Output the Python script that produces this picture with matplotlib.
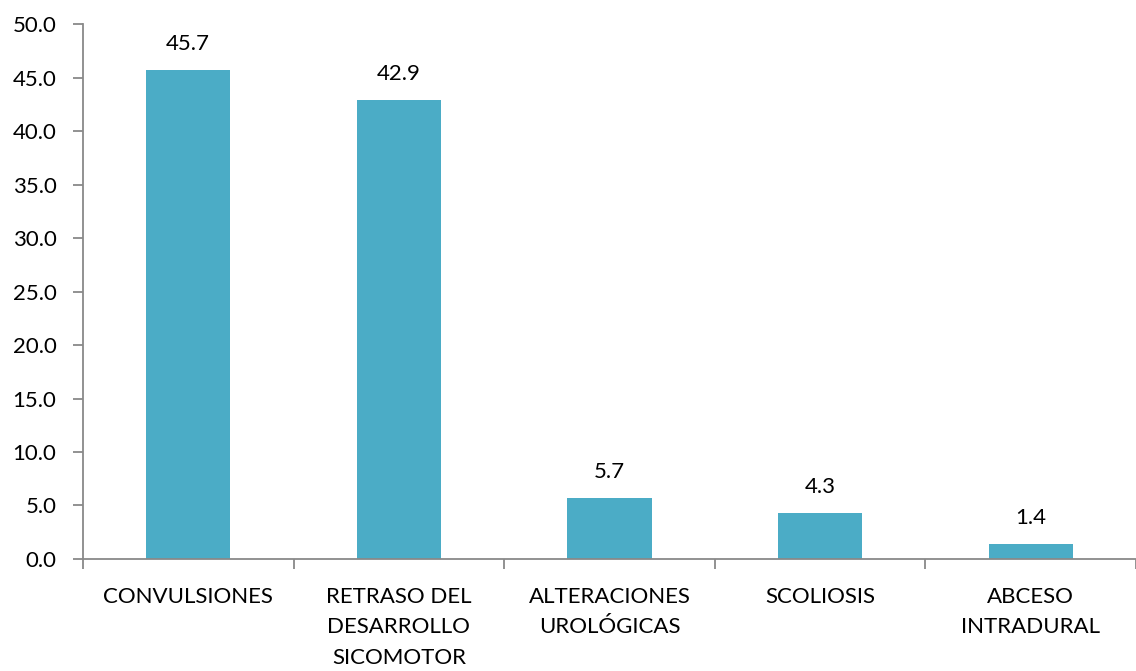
import matplotlib
matplotlib.use("Agg")
import matplotlib.pyplot as plt
import numpy as np

categorias = ["CONVULSIONES", "RETRASO DEL\nDESARROLLO\nSICOMOTOR", "ALTERACIONES\nUROLÓGICAS",
              "SCOLIOSIS", "ABCESO\nINTRADURAL"]
valores = [45.7, 42.9, 5.7, 4.3, 1.4]
yticks = [0, 5, 10, 15, 20, 25, 30, 35, 40, 45, 50]

plt.rcParams['font.family'] = ['Lato', 'DejaVu Sans']

fig = plt.figure(figsize=(11.36, 6.71), dpi=100)
ax = fig.add_axes([0.073, 0.167, 0.927, 0.797])

x = np.arange(len(categorias)) + 0.5
barras = ax.bar(x, valores, width=0.4, color="#4BACC6")

# etiquetas de valor encima de cada barra
for xi, v in zip(x, valores):
    ax.text(xi, v + 1.5, "{:.1f}".format(v), ha="center", va="bottom", fontsize=16)

ax.set_xlim(0, len(categorias))
ax.set_ylim(0, 50)
ax.set_yticks(yticks)
ax.set_yticklabels(["{:.1f}".format(t) for t in yticks], fontsize=16)

ax.set_xticks(x)
ax.set_xticklabels(categorias, fontsize=16, linespacing=1.65, va="top")
ax.set_xticks(np.arange(len(categorias) + 1), minor=True)
ax.tick_params(axis="x", which="major", length=0, pad=20)
ax.tick_params(axis="x", which="minor", length=7, color="#898989", width=1.3, direction="out")
ax.tick_params(axis="y", length=7, color="#898989", width=1.3, pad=12)

for s in ["top", "right"]:
    ax.spines[s].set_visible(False)
for s in ["left", "bottom"]:
    ax.spines[s].set_color("#898989")
    ax.spines[s].set_linewidth(1.3)

plt.savefig("out.png", dpi=100)
